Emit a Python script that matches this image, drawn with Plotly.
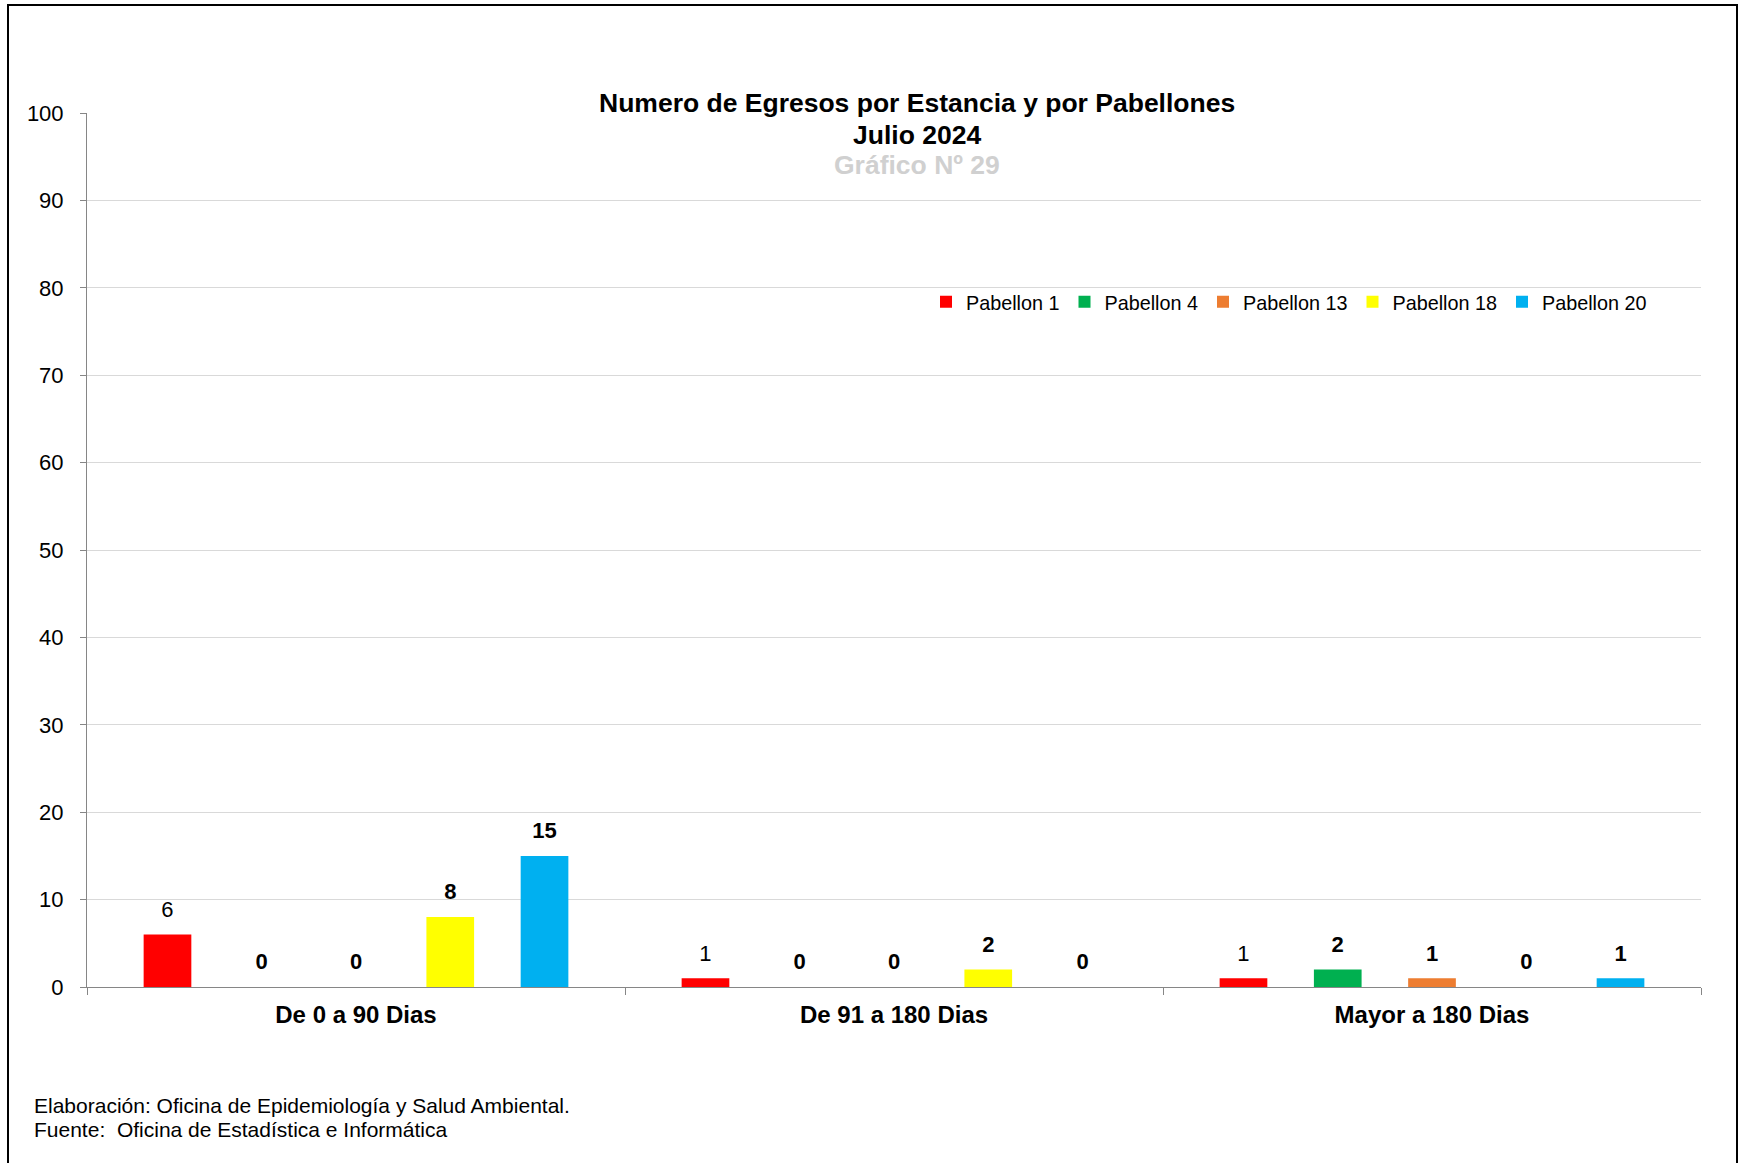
import plotly.graph_objects as go

categories = ["De 0 a 90 Dias", "De 91 a 180 Dias", "Mayor a 180 Dias"]
series_names = ["Pabellon 1", "Pabellon 4", "Pabellon 13", "Pabellon 18", "Pabellon 20"]
pab1 = [6, 1, 1]
pab4 = [0, 0, 2]
pab13 = [0, 0, 1]
pab18 = [8, 2, 0]
pab20 = [15, 0, 1]
series_values = [pab1, pab4, pab13, pab18, pab20]
colors = ["#FF0000", "#00B050", "#ED7D31", "#FFFF00", "#00B0F0"]
label_bold = [False, True, True, True, True]
y_ticks = [0, 10, 20, 30, 40, 50, 60, 70, 80, 90, 100]

FONT = "Liberation Sans, Arial, sans-serif"
BARGAP = 0.124

fig = go.Figure()
for name, vals, col in zip(series_names, series_values, colors):
    fig.add_trace(go.Bar(x=categories, y=vals, name=name, marker_color=col,
                         marker_line_width=0, hoverinfo="x+y+name"))

for name, vals, bold in zip(series_names, series_values, label_bold):
    txt = [f"<b>{v}</b>" if bold else f"{v}" for v in vals]
    fig.add_trace(go.Scatter(x=categories, y=vals, mode="markers+text", text=txt,
                             textposition="top center",
                             textfont=dict(family=FONT, size=22, color="#000000"),
                             marker=dict(size=18, color="rgba(0,0,0,0)"),
                             showlegend=False, hoverinfo="skip", cliponaxis=False))

W, H = 1741, 1163
L, R, T, B = 87, 40, 113, 176
pw, ph = W - L - R, H - T - B

def px(x):
    return (x - L) / pw

def py(y):
    return (H - B - y) / ph

annotations = [
    dict(text="<b>Numero de Egresos por Estancia y por Pabellones</b>", x=px(917), y=py(103),
         font=dict(size=26.5, color="#000000")),
    dict(text="<b>Julio 2024</b>", x=px(917), y=py(135), font=dict(size=26.5, color="#000000")),
    dict(text="<b>Gráfico Nº 29</b>", x=px(917), y=py(165), font=dict(size=26.5, color="#D0D0D0")),
]
for a in annotations:
    a.update(xref="paper", yref="paper", showarrow=False, xanchor="center", yanchor="middle")

footer = [
    ("Elaboración: Oficina de Epidemiología y Salud Ambiental.", 1105),
    ("Fuente:  Oficina de Estadística e Informática", 1129),
]
for t, yy in footer:
    annotations.append(dict(text=t, x=px(32), y=py(yy), xref="paper", yref="paper",
                            showarrow=False, xanchor="left", yanchor="middle",
                            font=dict(size=21, color="#000000")))

fig.update_layout(
    width=W, height=H,
    margin=dict(l=L, r=R, t=T, b=B),
    paper_bgcolor="white", plot_bgcolor="white",
    font=dict(family=FONT, color="#000000"),
    barmode="group", bargap=BARGAP, bargroupgap=0.494,
    scattermode="group", scattergap=BARGAP,
    legend=dict(orientation="h", x=px(926), y=py(302), xanchor="left", yanchor="middle",
                font=dict(size=19.8), bgcolor="rgba(0,0,0,0)", traceorder="normal"),
    annotations=annotations,
    shapes=[dict(type="rect", xref="paper", yref="paper",
                 x0=px(8), x1=px(1737), y0=py(1175), y1=py(5),
                 line=dict(color="#000000", width=2), fillcolor="rgba(0,0,0,0)", layer="above")],
)
fig.update_yaxes(range=[0, 100], tickvals=y_ticks, showgrid=True, gridcolor="#D9D9D9", gridwidth=1,
                 showline=True, linecolor="#868686", linewidth=1, ticks="outside",
                 tickcolor="#868686", ticklen=6, zeroline=False,
                 tickfont=dict(size=22, color="#000000"), ticklabelstandoff=12)
fig.update_xaxes(showline=True, linecolor="#868686", linewidth=1, ticks="outside",
                 tickson="boundaries", tickcolor="#868686", ticklen=7, showgrid=False,
                 tickfont=dict(size=24, color="#000000", weight="bold"), ticklabelstandoff=6)

fig.write_html("out.html", config={"displayModeBar": False},
               post_script="document.body.style.margin='0';")
